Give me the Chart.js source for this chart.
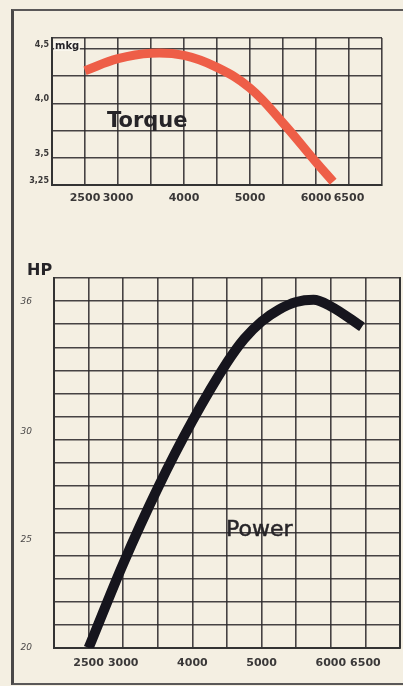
<!DOCTYPE html>
<html><head><meta charset="utf-8">
<script src="https://cdn.jsdelivr.net/npm/chart.js@4.4.1/dist/chart.umd.min.js"></script>
<style>
html,body{margin:0;padding:0;background:#f4efe2;}
#wrap{position:relative;width:403px;height:686px;overflow:hidden;background:#f4efe2;}
canvas{position:absolute;left:0;}
#frame{position:absolute;left:11px;top:9px;width:420px;height:672px;border-left:3px solid #4a4848;border-top:2px solid #5a5858;border-bottom:2px solid #5a5858;}
.lbl{position:absolute;white-space:nowrap;line-height:1;color:#262428;font-family:'DejaVu Sans',sans-serif;}
</style></head><body>
<div id="wrap">
<div id="frame"></div>
<canvas id="c1" width="403" height="215" style="top:0"></canvas>
<canvas id="c2" width="409" height="446" style="top:240px"></canvas>
<div class="lbl" style="left:54px;top:41px;font-size:10px;font-weight:bold;background:rgba(250,248,240,0.85);padding:0 1px;">mkg</div>
<div class="lbl" style="left:107px;top:110px;font-size:21px;font-weight:bold;">Torque</div>
<div class="lbl" style="left:27px;top:262px;font-size:16px;font-weight:bold;">HP</div>
<div class="lbl" style="left:226px;top:518px;font-size:22px;-webkit-text-stroke:0.5px #262428;">Power</div>
</div>
<script>
// ---- data ----
const rpmLabelValues = [2500, 3000, 4000, 5000, 6000, 6500];
const rpmMin = 2000, rpmMax = 7000, rpmStep = 500;

const torqueRpm    = [2500, 3000, 3500, 4000, 4500, 5000, 5500, 6000, 6260];
const torqueValues = [4.30, 4.41, 4.46, 4.44, 4.33, 4.14, 3.82, 3.46, 3.28];
const torqueGridValues = [3.25, 3.5, 3.75, 4.0, 4.25, 4.5, 4.6];
const torqueTickValues = [3.25, 3.5, 4.0, 4.5];
const torqueTickLabels = ['3,25', '3,5', '4,0', '4,5'];

const powerRpm    = [2500, 3000, 3500, 4000, 4500, 4750, 5000, 5250, 5500, 5750, 6000, 6450];
const powerValues = [20.0, 23.9, 27.4, 30.5, 33.2, 34.3, 35.1, 35.65, 36.0, 36.1, 35.8, 34.85];
const powerTickValues = [20, 25, 30, 36];
const powerTickLabels = ['20', '25', '30', '36'];
const powerMax = 37.11;
const powerGridDivisions = 16;

// ---- styling ----
const gridColor = 'rgba(45,42,44,0.88)';
const tickColor = '#3a3838';
Chart.defaults.font.family = "'DejaVu Sans', sans-serif";
Chart.defaults.animation = false;

function xScale(height, pad){
  return {
    type:'linear', min:rpmMin, max:rpmMax,
    afterFit(s){ s.height = height; },
    ticks:{ stepSize:rpmStep, autoSkip:false, maxRotation:0, padding:pad, color:tickColor,
      font:{size:11, weight:'bold'},
      callback:(v)=> rpmLabelValues.includes(v) ? String(v) : '' },
    grid:{ color:gridColor, lineWidth:1.6, drawTicks:false },
    border:{ display:true, color:'#333', width:2 }
  };
}

new Chart(document.getElementById('c1'), {
  type:'line',
  data:{ datasets:[{
    data: torqueRpm.map((r,i)=>({x:r, y:torqueValues[i]})),
    borderColor:'#ee5e47', borderWidth:9, pointRadius:0, borderCapStyle:'butt',
    tension:0.4, fill:false
  }]},
  options:{
    responsive:false,
    layout:{ padding:{ top:38, right:21, left:0, bottom:0 } },
    plugins:{ legend:{display:false}, tooltip:{enabled:false} },
    scales:{
      x: xScale(30, 7),
      y:{
        type:'linear', min:3.25, max:4.6,
        afterFit(s){ s.width = 52; },
        afterBuildTicks(s){ s.ticks = torqueGridValues.map(v=>({value:v})); },
        ticks:{ padding:3, labelOffset:-4, color:tickColor, font:{size:8, weight:'bold'},
          callback:(v)=>{ const i = torqueTickValues.indexOf(v); return i>=0 ? torqueTickLabels[i] : ''; } },
        grid:{ color:gridColor, lineWidth:1.6, drawTicks:false },
        border:{ display:true, color:'#333', width:2 }
      }
    }
  }
});

new Chart(document.getElementById('c2'), {
  type:'line',
  data:{ datasets:[{
    data: powerRpm.map((r,i)=>({x:r, y:powerValues[i]})),
    borderColor:'#16151d', borderWidth:10, pointRadius:0, borderCapStyle:'butt',
    cubicInterpolationMode:'monotone', fill:false, yAxisID:'y'
  }]},
  options:{
    responsive:false,
    layout:{ padding:{ top:38, right:0, left:0, bottom:0 } },
    plugins:{ legend:{display:false}, tooltip:{enabled:false} },
    scales:{
      x: xScale(38, 9),
      y:{
        type:'linear', position:'left', min:20, max:powerMax,
        afterFit(s){ s.width = 54; },
        afterBuildTicks(s){ s.ticks = powerTickValues.map(v=>({value:v})); },
        ticks:{ padding:14, color:'#4a4848', font:{size:9, style:'italic'},
          callback:(v)=>{ const i = powerTickValues.indexOf(v); return i>=0 ? powerTickLabels[i] : ''; } },
        grid:{ display:false },
        border:{ display:true, color:'#333', width:2 }
      },
      yg:{
        type:'linear', position:'right', min:0, max:powerGridDivisions,
        afterFit(s){ s.width = 0; },
        ticks:{ display:false, stepSize:1 },
        grid:{ color:gridColor, lineWidth:1.6, drawTicks:false },
        border:{ display:true, color:'#333', width:2 }
      }
    }
  }
});
</script>
</body></html>
